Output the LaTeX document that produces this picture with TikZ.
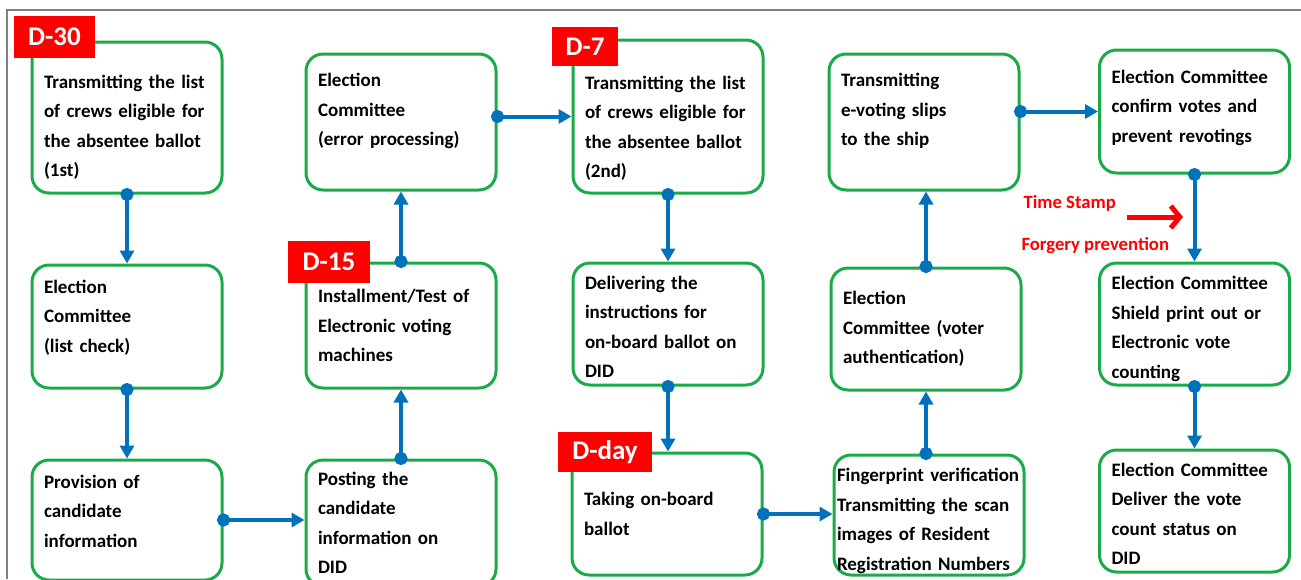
\documentclass[tikz,border=0pt]{standalone}
\usepackage{fontspec}
\setmainfont{Carlito}
\usetikzlibrary{arrows.meta}
\definecolor{boxgreen}{RGB}{26,170,72}
\definecolor{flowblue}{RGB}{0,114,188}
\definecolor{tagred}{RGB}{255,0,0}

\begin{document}
\begin{tikzpicture}[x=1pt,y=-1pt,
    box/.style={draw=boxgreen,line width=3pt,rounded corners=17pt,fill=white,
      minimum width=190pt,text width=166pt,inner xsep=12pt,align=left,
      font=\bfseries\fontsize{19}{29.5}\selectfont},
    raise/.style={execute at end node={\endgraf\vspace*{#1}}},
    lower/.style={raise=-#1},
    tag/.style={fill=tagred,text=white,inner sep=0pt,
      font=\bfseries\fontsize{27}{27}\selectfont},
    flow/.style={flowblue,line width=4pt,shorten <=-6.5pt,
      {Circle[length=13pt]}-{Triangle[length=13pt,width=14pt]}},
    note/.style={text=tagred,anchor=west,font=\bfseries\fontsize{18.7}{18.7}\selectfont}]

  \useasboundingbox (0,0) rectangle (1301,579);
  \draw[gray,line width=2pt] (7,579) -- (7,10) -- (1301,10);

  % top row
  \node[box,lower=20pt,minimum height=151pt] (list1) at (127,117.5)
    {Transmitting the list\\of crews eligible for\\the absentee ballot\\(1st)};
  \node[box,raise=22pt,minimum height=136pt] (err) at (401,122)
    {Election\\Committee\\(error processing)};
  \node[box,lower=24pt,minimum height=153pt] (list2) at (668,116.5)
    {Transmitting the list\\of crews eligible for\\the absentee ballot\\(2nd)};
  \node[box,raise=22pt,minimum height=136pt] (slips) at (924,122)
    {Transmitting\\e-voting slips\\to the ship};
  \node[box,raise=8pt,minimum height=123pt] (confirm) at (1194.5,111.5)
    {Election Committee\\confirm votes and\\prevent revotings};

  % middle row
  \node[box,raise=18pt,minimum height=123pt] (check) at (127,326.5)
    {Election\\Committee\\(list check)};
  \node[box,minimum height=125pt] (install) at (401,325.5)
    {Installment/Test of\\Electronic voting\\machines};
  \node[box,lower=6pt,minimum height=122pt] (deliver) at (668,324)
    {Delivering the\\instructions for\\on-board ballot on\\DID};
  \node[box,minimum height=122pt] (auth) at (926,329)
    {Election\\Committee (voter\\authentication)};
  \node[box,lower=10pt,minimum height=122pt] (shield) at (1194.5,324)
    {Election Committee\\Shield print out or\\Electronic vote\\counting};

  % bottom row
  \node[box,raise=18pt,minimum height=120pt] (provide) at (127,520)
    {Provision of\\candidate\\information};
  \node[box,minimum height=126pt] (post) at (401,523)
    {Posting the\\candidate\\information on\\DID};
  \node[box,minimum height=122pt] (ballot) at (667,514)
    {Taking on-board\\ballot};
  \node[box,lower=12pt,minimum height=120pt,inner xsep=2pt,text width=184pt] (finger) at (929,515)
    {Fingerprint verification\\Transmitting the scan\\images of Resident\\Registration Numbers};
  \node[box,lower=6pt,minimum height=122pt] (count) at (1194.5,511)
    {Election Committee\\Deliver the vote\\count status on\\DID};

  % day tags
  \node[tag,minimum width=81pt,minimum height=42pt] (d30) at (54.5,37) {D-30};
  \node[tag,minimum width=82pt,minimum height=42pt] (d15) at (329,262) {D-15};
  \node[tag,minimum width=66pt,minimum height=39pt] (d7) at (585,46.5) {D-7};
  \node[tag,minimum width=94pt,minimum height=40pt] (dday) at (605,452) {D-day};

  \path[flow]
    (list1.south) edge (check.north)
    (check.south) edge (provide.north)
    (provide.east) edge (provide.east -| post.west)
    (post.north) edge (install.south)
    (install.north) edge (err.south)
    (err.east |- list2.west) edge (list2.west)
    (list2.south) edge (deliver.north)
    (deliver.south) edge (deliver.south |- ballot.north)
    (ballot.east) edge (ballot.east -| finger.west)
    (auth.south |- finger.north) edge (auth.south)
    (auth.north) edge (auth.north |- slips.south)
    (slips.east |- confirm.west) edge (confirm.west)
    (confirm.south) edge (shield.north)
    (shield.south) edge (count.north);

  % time stamp note
  \node[note] (stamp) at (1020,203) {Time Stamp};
  \node[note] (forgery) at (1018,246) {Forgery prevention};
  \coordinate (stampA) at (1127,217);
  \coordinate (stampB) at (1183,217);
  \draw[tagred,line width=5pt,-{Straight Barb[length=9pt,width=22pt]}] (stampA) -- (stampB);
\end{tikzpicture}
\end{document}
